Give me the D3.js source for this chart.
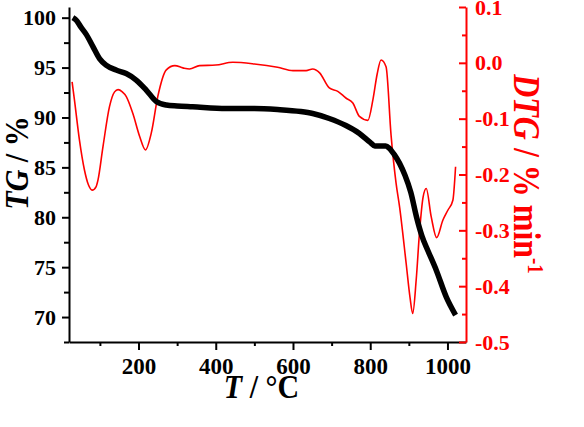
<!DOCTYPE html>
<html>
<head>
<meta charset="utf-8">
<script src="https://cdn.jsdelivr.net/npm/d3@7"></script>
<style>
  body { margin: 0; background: #fff; }
  text { font-family: "Liberation Serif", "Times New Roman", serif; font-weight: bold; }
</style>
</head>
<body>
<div id="chart"></div>
<script>
// TG curve (temperature in °C, mass in %)
let tgTemp = [30, 40, 50, 65, 82, 99, 116, 142, 168, 194, 220, 246, 272, 300, 340, 427, 500, 560, 620, 651,
              694, 737, 772, 800, 812, 840, 850, 862, 876, 890, 905, 920, 934, 950, 971, 997, 1021];
let tgValues = [100, 99.7, 99.1, 98.3, 97.1, 95.9, 95.25, 94.75, 94.4, 93.75, 92.75, 91.6, 91.25, 91.15, 91.07, 90.9, 90.9, 90.8, 90.6, 90.4,
                89.9, 89.2, 88.4, 87.5, 87.15, 87.15, 86.9, 86.3, 85.4, 84.2, 82.5, 80.0, 78.1, 76.6, 74.7, 72.0, 70.2];

// DTG curve (%/min)
let dtgTemp = [28, 34, 47, 60, 70, 80, 90, 95, 108, 125, 138, 147, 158, 168, 185, 203, 218, 233, 250, 272,
               294, 315, 332, 358, 400, 444, 500, 560, 600, 634, 651, 669, 694, 716, 737, 755, 772, 794, 807, 818,
               828, 841, 854, 867, 876, 893, 903, 910, 919, 928, 937, 945, 958, 972, 988, 1001, 1014, 1021];
let dtgValues = [-0.034, -0.066, -0.138, -0.192, -0.218, -0.228, -0.222, -0.21, -0.15, -0.078, -0.052, -0.048, -0.052, -0.06, -0.09, -0.132, -0.156, -0.126, -0.06, -0.0125,
                 -0.005, -0.009, -0.011, -0.005, -0.004, 0.001, -0.002, -0.008, -0.014, -0.014, -0.011, -0.018, -0.045, -0.051, -0.063, -0.072, -0.096, -0.103, -0.066, -0.02,
                 0.005, -0.007, -0.13, -0.216, -0.258, -0.359, -0.42, -0.449, -0.389, -0.30, -0.24, -0.225, -0.276, -0.313, -0.282, -0.264, -0.246, -0.186];

// tick values
let xTicks = [200, 400, 600, 800, 1000];
let xMinor = [100, 300, 500, 700, 900];
let tgTicks = [70, 75, 80, 85, 90, 95, 100];
let tgMinor = [67.5, 72.5, 77.5, 82.5, 87.5, 92.5, 97.5];
let dtgTicks = [0.1, 0.0, -0.1, -0.2, -0.3, -0.4, -0.5];
let dtgMinor = [0.05, -0.05, -0.15, -0.25, -0.35, -0.45];

let width = 584, height = 427;
let plotLeft = 69, plotRight = 466, plotTop = 7, plotBottom = 342;

let svg = d3.select("#chart").append("svg")
    .attr("width", width)
    .attr("height", height);

let x = d3.scaleLinear().domain([20, 1048]).range([plotLeft, plotRight]);
let yTG = d3.scaleLinear().domain([67.5, 101.07]).range([plotBottom, plotTop]);
let yDTG = d3.scaleLinear().domain([-0.5, 0.1]).range([plotBottom, plotTop]);

// curves
let dtgLine = d3.line()
    .x(function (d, i) { return x(dtgTemp[i]); })
    .y(function (d) { return yDTG(d); })
    .curve(d3.curveMonotoneX);

let tgLine = d3.line()
    .x(function (d, i) { return x(tgTemp[i]); })
    .y(function (d) { return yTG(d); })
    .curve(d3.curveMonotoneX);

svg.append("path")
    .attr("d", dtgLine(dtgValues))
    .attr("fill", "none")
    .attr("stroke", "#ff0000")
    .attr("stroke-width", 1.6);

svg.append("path")
    .attr("d", tgLine(tgValues))
    .attr("fill", "none")
    .attr("stroke", "#000")
    .attr("stroke-width", 5.5)
    .attr("stroke-linejoin", "round");

// axes
function styleAxis(g, color, size) {
    g.selectAll("path.domain").attr("stroke", color).attr("stroke-width", 2);
    g.selectAll(".tick line").attr("stroke", color).attr("stroke-width", 2);
    g.selectAll(".tick text")
        .attr("fill", color)
        .style("font-size", size + "px")
        .style("font-family", "'Liberation Serif', serif")
        .style("font-weight", "bold");
}

// bottom
let gx = svg.append("g").attr("transform", "translate(0," + plotBottom + ")")
    .call(d3.axisBottom(x).tickValues(xTicks).tickSize(8).tickSizeOuter(0).tickPadding(8).tickFormat(d3.format("d")));
styleAxis(gx, "#000", 23);
let gxm = svg.append("g").attr("transform", "translate(0," + plotBottom + ")")
    .call(d3.axisBottom(x).tickValues(xMinor).tickSize(4).tickSizeOuter(0).tickFormat(""));
styleAxis(gxm, "#000", 1);
gxm.select("path.domain").remove();

// left
let gy = svg.append("g").attr("transform", "translate(" + plotLeft + ",0)")
    .call(d3.axisLeft(yTG).tickValues(tgTicks).tickSize(7).tickSizeOuter(0).tickPadding(6).tickFormat(d3.format("d")));
styleAxis(gy, "#000", 22);
let gym = svg.append("g").attr("transform", "translate(" + plotLeft + ",0)")
    .call(d3.axisLeft(yTG).tickValues(tgMinor).tickSize(5).tickSizeOuter(0).tickFormat(""));
styleAxis(gym, "#000", 1);
gym.select("path.domain").remove();

// right (ticks point inward, labels outside)
let gr = svg.append("g").attr("transform", "translate(" + plotRight + ",0)")
    .call(d3.axisRight(yDTG).tickValues(dtgTicks).tickSize(-7).tickSizeOuter(0).tickPadding(16)
        .tickFormat(function (d) { return (Math.abs(d) < 1e-9 ? 0 : d).toFixed(1); }));
styleAxis(gr, "#ff0000", 22);
gr.selectAll(".tick text").attr("x", 9).attr("text-anchor", "start");
let grm = svg.append("g").attr("transform", "translate(" + plotRight + ",0)")
    .call(d3.axisRight(yDTG).tickValues(dtgMinor).tickSize(-4).tickSizeOuter(0).tickFormat(""));
styleAxis(grm, "#ff0000", 1);
grm.select("path.domain").remove();

// axis titles (glyphs a bit taller than wide, like the original)
let xt = svg.append("text")
    .attr("transform", "translate(" + ((plotLeft + plotRight) / 2 - 6) + ",398) scale(1,1.12)")
    .attr("text-anchor", "middle")
    .style("font-size", "30px");
xt.append("tspan").style("font-style", "italic").text("T");
xt.append("tspan").text(" / °C");

let yt = svg.append("text")
    .attr("transform", "translate(28,163) rotate(-90) scale(1,1.15)")
    .attr("text-anchor", "middle")
    .style("font-size", "30px");
yt.append("tspan").style("font-style", "italic").text("TG");
yt.append("tspan").text(" / %");

let rt = svg.append("text")
    .attr("transform", "translate(514,174) rotate(90) scale(1,1.2)")
    .attr("text-anchor", "middle")
    .attr("fill", "#ff0000")
    .style("font-size", "32px");
rt.append("tspan").style("font-style", "italic").text("DTG");
rt.append("tspan").text(" / % min");
rt.append("tspan").attr("dy", -12).style("font-size", "19px").text("-1");
</script>
</body>
</html>
